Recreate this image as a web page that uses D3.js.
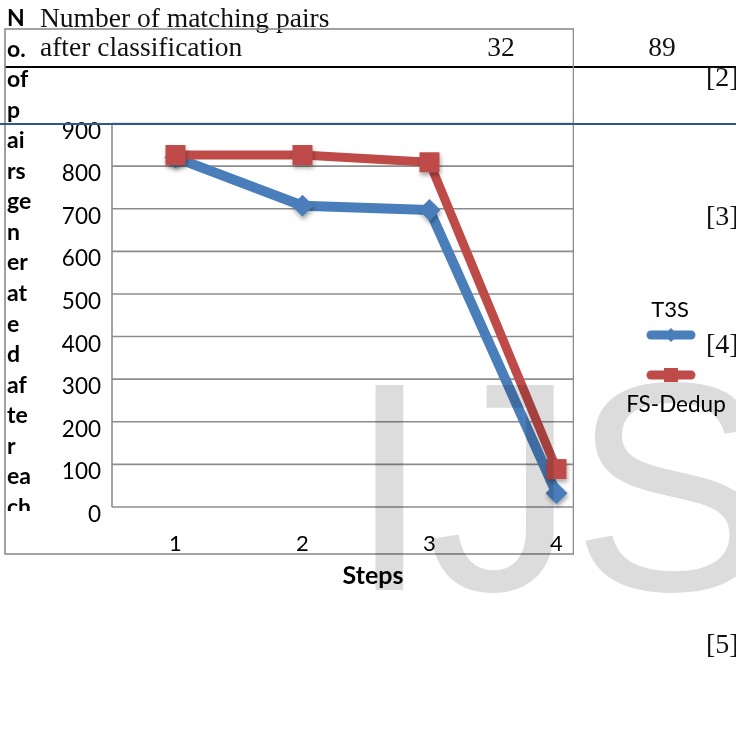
<!DOCTYPE html>
<html><head><meta charset="utf-8">
<script src="https://cdn.jsdelivr.net/npm/d3@7"></script>
<style>html,body{margin:0;padding:0;background:#fff;}svg{display:block;}</style>
</head><body>
<script>
// ---- data ----
const steps = [1, 2, 3, 4];
const t3s = [820, 707, 697, 32];
const fsDedup = [826, 826, 809, 89];
const seriesNames = ["T3S", "FS-Dedup"];
const yTicks = [0, 100, 200, 300, 400, 500, 600, 700, 800, 900];
const yTitleParts = ["N", "o.", "of", "p", "ai", "rs", "ge", "n", "er", "at", "e", "d", "af", "te", "r", "ea", "ch"];
const xTitle = "Steps";
const headerLines = ["Number of matching pairs", "after classification"];
const tableValues = ["32", "89"];
const refs = ["[2]", "[3]", "[4]", "[5]"];
const watermark = "IJS";

const W = 736, H = 756;
const svg = d3.select("body").append("svg").attr("width", W).attr("height", H);
const defs = svg.append("defs");
const sh = defs.append("filter").attr("id", "shadow").attr("x", "-50%").attr("y", "-50%").attr("width", "200%").attr("height", "200%");
sh.append("feDropShadow").attr("dx", 1).attr("dy", 3).attr("stdDeviation", 2).attr("flood-color", "#000").attr("flood-opacity", 0.35);
defs.append("clipPath").attr("id", "chartClip").append("rect").attr("x", 0).attr("y", 0).attr("width", 574).attr("height", H);
defs.append("clipPath").attr("id", "titleClip").append("rect").attr("x", 0).attr("y", 0).attr("width", 110).attr("height", 511);

const sans = "Lato, 'Open Sans', sans-serif";
const serif = "'Liberation Serif', 'DejaVu Serif', serif";

// ---- page text (table row) ----
svg.append("g").selectAll("text").data(headerLines).join("text")
  .attr("x", 40).attr("y", (d, i) => 27 + i * 29)
  .attr("font-family", serif).attr("font-size", 27.5).attr("fill", "#111").text(d => d);
svg.append("g").selectAll("text").data(tableValues).join("text")
  .attr("x", (d, i) => [501, 662][i]).attr("y", 56).attr("text-anchor", "middle")
  .attr("font-family", serif).attr("font-size", 27.5).attr("fill", "#111").text(d => d);
svg.append("line").attr("x1", 5).attr("x2", W).attr("y1", 67).attr("y2", 67).attr("stroke", "#000").attr("stroke-width", 2);
svg.append("g").selectAll("text").data(refs).join("text")
  .attr("x", 706).attr("y", (d, i) => [86, 225, 353, 653][i])
  .attr("font-family", serif).attr("font-size", 28).attr("fill", "#111").text(d => d);

// ---- chart ----
const chart = svg.append("g").attr("clip-path", "url(#chartClip)");
const x = d3.scaleBand().domain(steps).range([112, 620]);
const y = d3.scaleLinear().domain([0, 900]).range([507, 123.5]);
const cx = d => x(d) + x.bandwidth() / 2;

// outer border
chart.append("rect").attr("x", 5).attr("y", 29).attr("width", 568.5).attr("height", 525)
  .attr("fill", "none").attr("stroke", "#8c8c8c").attr("stroke-width", 1.6);

// gridlines
chart.append("g").selectAll("line").data(yTicks).join("line")
  .attr("x1", 112).attr("x2", 574).attr("y1", d => y(d)).attr("y2", d => y(d))
  .attr("stroke", "#8c8c8c").attr("stroke-width", 1.6);
chart.append("line").attr("x1", 112).attr("x2", 112).attr("y1", y(900)).attr("y2", y(0))
  .attr("stroke", "#8c8c8c").attr("stroke-width", 1.6);

// y tick labels
chart.append("g").selectAll("text").data(yTicks).join("text")
  .attr("x", 101).attr("y", d => y(d) + 15).attr("text-anchor", "end")
  .attr("font-family", sans).attr("font-size", 22.5).attr("fill", "#000").text(d => d);
// x tick labels
chart.append("g").selectAll("text").data(steps).join("text")
  .attr("x", d => cx(d)).attr("y", 551).attr("text-anchor", "middle")
  .attr("font-family", sans).attr("font-size", 22).attr("fill", "#000").text(d => d);
// x title
svg.append("text").attr("x", 373).attr("y", 584).attr("text-anchor", "middle")
  .attr("font-family", sans).attr("font-weight", "bold").attr("font-size", 25).attr("fill", "#000").text(xTitle);
// y title fragments
svg.append("g").attr("clip-path", "url(#titleClip)").selectAll("text").data(yTitleParts).join("text")
  .attr("x", 7).attr("y", (d, i) => 26 + i * 30.55)
  .attr("font-family", sans).attr("font-weight", "bold").attr("font-size", 23).attr("fill", "#000").text(d => d);

// lines
const line = d3.line().x((d, i) => cx(steps[i])).y(d => y(d));
const blue = "#4a7ebb", red = "#be4b48";
chart.append("path").datum(t3s).attr("d", line).attr("fill", "none").attr("stroke", blue)
  .attr("stroke-width", 10).attr("stroke-linejoin", "round");
chart.append("g").selectAll("path").data(t3s).join("path")
  .attr("d", "M0,-11L11,0L0,11L-11,0Z").attr("transform", (d, i) => `translate(${cx(steps[i])},${y(d)})`)
  .attr("fill", blue).attr("filter", "url(#shadow)");
chart.append("path").datum(fsDedup).attr("d", line).attr("fill", "none").attr("stroke", red)
  .attr("stroke-width", 9).attr("stroke-linejoin", "round");
chart.append("g").selectAll("rect").data(fsDedup).join("rect")
  .attr("x", (d, i) => cx(steps[i]) - 10).attr("y", d => y(d) - 10).attr("width", 20).attr("height", 20)
  .attr("fill", red).attr("filter", "url(#shadow)");

// legend
const lg = svg.append("g");
lg.append("text").attr("x", 670).attr("y", 317).attr("text-anchor", "middle")
  .attr("font-family", sans).attr("font-size", 22).attr("fill", "#000").text(seriesNames[0]);
lg.append("line").attr("x1", 651).attr("x2", 691).attr("y1", 335).attr("y2", 335)
  .attr("stroke", blue).attr("stroke-width", 9).attr("stroke-linecap", "round");
lg.append("path").attr("d", "M0,-7L7,0L0,7L-7,0Z").attr("transform", "translate(671,335)").attr("fill", blue);
lg.append("line").attr("x1", 651).attr("x2", 691).attr("y1", 375).attr("y2", 375)
  .attr("stroke", red).attr("stroke-width", 9).attr("stroke-linecap", "round");
lg.append("rect").attr("x", 664).attr("y", 368).attr("width", 14).attr("height", 14).attr("fill", red);
lg.append("text").attr("x", 676).attr("y", 412).attr("text-anchor", "middle")
  .attr("font-family", sans).attr("font-size", 22.5).attr("fill", "#000").text(seriesNames[1]);

// blue page rule
svg.append("line").attr("x1", 0).attr("x2", W).attr("y1", 124).attr("y2", 124).attr("stroke", "#2f5a88").attr("stroke-width", 2);

// watermark
svg.append("text").attr("x", 348).attr("y", 590).attr("font-family", "'Liberation Sans', Arial, sans-serif")
  .attr("font-size", 298).attr("letter-spacing", -4).attr("fill", "#dcdcdc")
  .style("mix-blend-mode", "multiply").text(watermark);
</script>
</body></html>
